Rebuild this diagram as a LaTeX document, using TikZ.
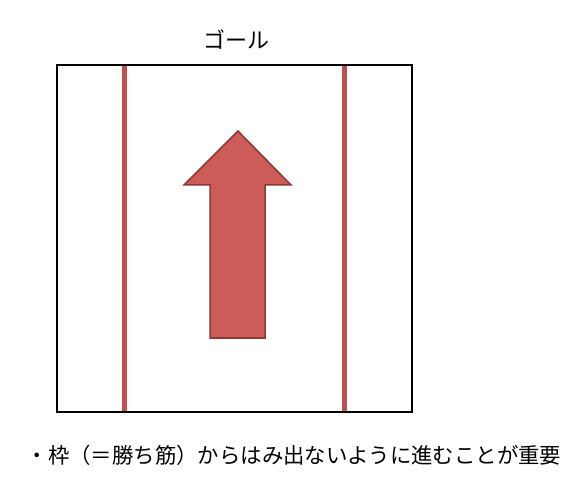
\documentclass[tikz,border=0pt]{standalone}
\usepackage{fontspec}
\usepackage{xcolor}
\newfontfamily\jpfont{Noto Sans CJK JP}
\definecolor{lanered}{RGB}{192,80,77}
\definecolor{arrowfill}{RGB}{205,91,88}
\definecolor{arrowline}{RGB}{142,56,54}

\begin{document}
\begin{tikzpicture}[x=1pt,y=-1pt]
\tikzset{label/.style = {font=\jpfont\fontsize{22}{26}\selectfont,inner sep=0pt}}
\tikzset{frame/.style = {draw=black,line width=2.5pt}}
\tikzset{lane/.style = {draw=lanered,line width=5pt}}
\tikzset{bigarrow/.style = {fill=arrowfill,draw=arrowline,line width=1.5pt,line join=miter}}
\useasboundingbox (0,0) rectangle (581,494);
% frame
\coordinate (tl) at (57,65);
\coordinate (br) at (412,412);
\draw[frame] (tl) rectangle (br);

% lanes
\draw[lane] (124,66) -- (124,411);
\draw[lane] (344,66) -- (344,411);

% arrow
\draw[bigarrow] (238,131) -- (291,185) -- (265,185) -- (265,338)
  -- (210,338) -- (210,185) -- (184,185) -- cycle;

% texts
\node[label] (goal) at (236,40) {ゴール};
\node[label,font=\jpfont\fontsize{21.4}{24}\selectfont] (note) at (294,455) {・枠（＝勝ち筋）からはみ出ないように進むことが重要};
\end{tikzpicture}
\end{document}
